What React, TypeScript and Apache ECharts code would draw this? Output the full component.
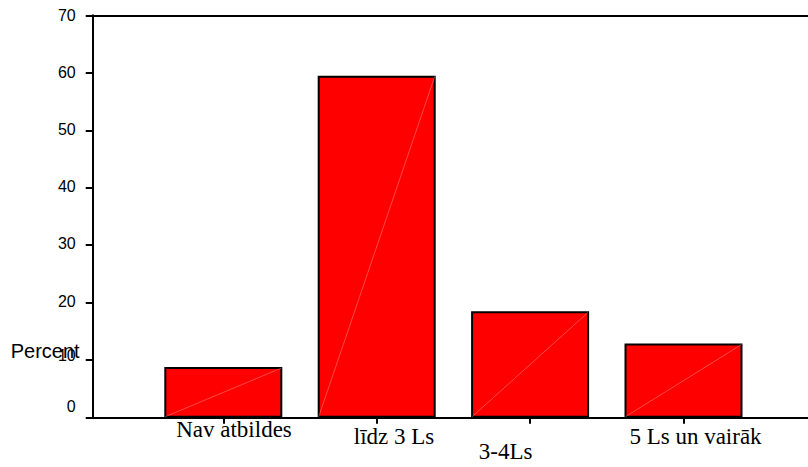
import React, { useEffect, useRef } from "react";
import * as echarts from "echarts";

// ---- data ----
const categories = ["Nav atbildes", "līdz 3 Ls", "3-4Ls", "5 Ls un vairāk"];
const percentValues = [8.8, 59.5, 18.5, 12.9];
const yMin = 0;
const yMax = 70;
const yStep = 10;
const yAxisTitle = "Percent";

// ---- styling (positions / offsets, not data) ----
const W = 808;
const H = 467;
const xLabelPad: number[][] = [
  [0, 0, 0, 21.4],
  [14, 0, 0, 34.6],
  [45.5, 49, 0, 0],
  [15, 0, 0, 24],
];
const yLabelPadBottom: Record<number, number> = { 0: 23, 10: 9, 20: 2, 30: 3, 40: 2, 50: 2, 60: 0, 70: 0 };
const BAR_W = 118;

export default function App() {
  const ref = useRef<HTMLDivElement>(null);
  useEffect(() => {
    document.body.style.margin = "0";
    if (!ref.current) return;
    const chart = echarts.init(ref.current, undefined, { renderer: "svg" });

    const xRich: Record<string, any> = {};
    xLabelPad.forEach((p, i) => {
      xRich["c" + i] = {
        fontFamily: "Liberation Serif",
        fontSize: 23,
        lineHeight: 23,
        color: "#000",
        padding: p,
      };
    });
    const yRich: Record<string, any> = {};
    for (let v = yMin; v <= yMax; v += yStep) {
      yRich["y" + v] = {
        fontFamily: "Liberation Sans",
        fontSize: 16,
        color: "#000",
        padding: [0, 0, yLabelPadBottom[v] ?? 0, 0],
      };
    }

    const frameGrid = { left: 92.7, right: 0, top: 15.3, bottom: H - 417.7 };
    const barGrid = { left: 146.6, right: 47.8, top: 15.3, bottom: H - 417.7 };

    chart.setOption({
      animation: false,
      backgroundColor: "#fff",
      grid: [
        { ...frameGrid, containLabel: false },
        { ...barGrid, containLabel: false },
      ],
      xAxis: [
        {
          gridIndex: 0,
          type: "value",
          position: "bottom",
          min: 0,
          max: 1,
          axisLine: { show: true, onZero: false, lineStyle: { color: "#000", width: 2 } },
          axisTick: { show: false },
          axisLabel: { show: false },
          splitLine: { show: false },
        },
        {
          gridIndex: 0,
          type: "value",
          position: "top",
          min: 0,
          max: 1,
          axisLine: { show: true, onZero: false, lineStyle: { color: "#000", width: 2 } },
          axisTick: { show: false },
          axisLabel: { show: false },
          splitLine: { show: false },
        },
        {
          gridIndex: 1,
          type: "category",
          data: categories,
          position: "bottom",
          boundaryGap: true,
          axisLine: { show: false },
          axisTick: {
            show: true,
            alignWithLabel: true,
            length: 6,
            lineStyle: { color: "#000", width: 2 },
          },
          axisLabel: {
            show: true,
            interval: 0,
            margin: 0,
            verticalAlign: "top",
            formatter: (v: string, i: number) => `{c${i}|${v}}`,
            rich: xRich,
          },
          splitLine: { show: false },
        },
      ],
      yAxis: [
        {
          gridIndex: 0,
          type: "value",
          min: yMin,
          max: yMax,
          interval: yStep,
          axisLine: { show: true, onZero: false, lineStyle: { color: "#000", width: 2 } },
          axisTick: { show: true, length: 7, lineStyle: { color: "#000", width: 2 } },
          axisLabel: {
            show: true,
            margin: 17,
            formatter: (v: number) => `{y${v}|${v}}`,
            rich: yRich,
          },
          splitLine: { show: false },
        },
        {
          gridIndex: 1,
          type: "value",
          min: yMin,
          max: yMax,
          interval: yStep,
          show: false,
          splitLine: { show: false },
        },
      ],
      series: [
        {
          type: "bar",
          xAxisIndex: 2,
          yAxisIndex: 1,
          data: percentValues,
          barWidth: BAR_W,
          itemStyle: { color: "#ff0000", borderColor: "#000", borderWidth: 2 },
          z: 3,
        },
        {
          type: "custom",
          xAxisIndex: 2,
          yAxisIndex: 1,
          data: percentValues.map((v, i) => [i, v]),
          z: 4,
          silent: true,
          renderItem: (params: any, api: any) => {
            const top = api.coord([api.value(0), api.value(1)]);
            const bottom = api.coord([api.value(0), 0]);
            const w = BAR_W - 2;
            return {
              type: "line",
              shape: {
                x1: top[0] - w / 2,
                y1: bottom[1] - 1,
                x2: top[0] + w / 2,
                y2: top[1] + 1,
              },
              style: { stroke: "rgba(255,170,170,0.7)", lineWidth: 0.6 },
            };
          },
        },
      ],
      graphic: [
        {
          type: "text",
          x: 10.7,
          y: 351.4,
          style: {
            text: yAxisTitle,
            fontFamily: "Liberation Sans",
            fontSize: 20,
            fill: "#000",
            verticalAlign: "middle",
            align: "left",
          },
          z: 10,
        },
      ],
    });
    return () => chart.dispose();
  }, []);
  return <div ref={ref} style={{ width: W, height: H }} />;
}
